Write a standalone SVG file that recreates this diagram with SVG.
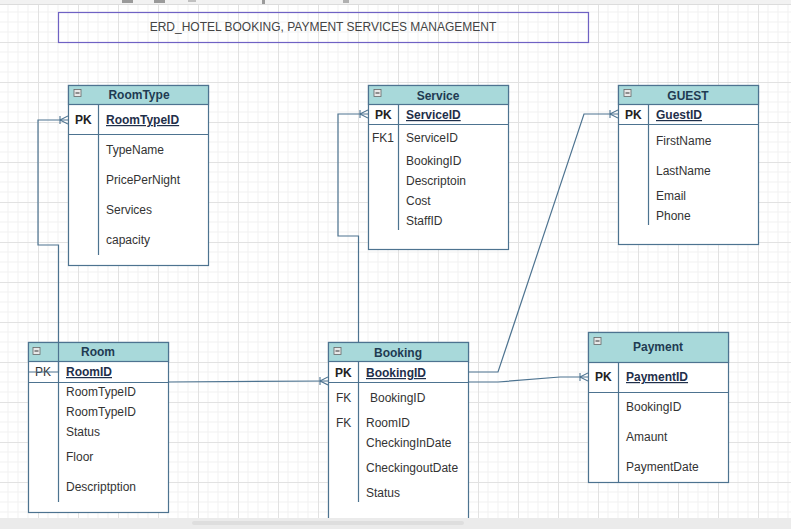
<svg xmlns="http://www.w3.org/2000/svg" width="791" height="529" viewBox="0 0 791 529">
<style>
.box{fill:#ffffff;stroke:#4d7390;stroke-width:1.2}
.hdr{fill:#a8d9da;stroke:#4d7390;stroke-width:1.2}
.ln{stroke:#4d7390;stroke-width:1.2;fill:none}
.ttl{font-family:"Liberation Sans",Arial,sans-serif;font-size:12px;font-weight:bold;fill:#1f3b52;text-anchor:middle}
.pk{font-family:"Liberation Sans",Arial,sans-serif;font-size:12px;font-weight:bold;fill:#222}
.pkn{font-family:"Liberation Sans",Arial,sans-serif;font-size:12px;font-weight:bold;fill:#1f2f4a;text-decoration:underline}
.f{font-family:"Liberation Sans",Arial,sans-serif;font-size:12px;fill:#333}
.conn{stroke:#4d7390;stroke-width:1.2;fill:none}
.mi{fill:#e8e8e8;stroke:#666;stroke-width:0.8}
</style>
<defs>
<pattern id="grid" x="-2" y="2" width="40" height="40" patternUnits="userSpaceOnUse">
<path d="M10,0V40M20,0V40M30,0V40M0,10H40M0,20H40M0,30H40" stroke="#f1f1f1" stroke-width="1"/>
<path d="M0.5,0V40M0,0.5H40" stroke="#e2e2e2" stroke-width="1"/>
</pattern>
<marker id="cf" viewBox="0 0 10 10" refX="10" refY="5" markerWidth="10" markerHeight="10" markerUnits="userSpaceOnUse" orient="auto">
<path d="M2,1V9M2,5L10,1M2,5L10,9" stroke="#4d7390" stroke-width="1.1" fill="none"/>
</marker>
</defs>
<rect width="791" height="529" fill="#ffffff"/>
<rect width="791" height="529" fill="url(#grid)"/>
<rect x="0" y="0" width="791" height="4" fill="#f2f2f2"/>
<line x1="0" y1="4.5" x2="791" y2="4.5" stroke="#dcdcdc"/>
<rect x="122" y="0" width="11" height="3" fill="#9a9a9a"/>
<rect x="154" y="0" width="11" height="3" fill="#9a9a9a"/>
<rect x="188" y="0" width="8" height="2" fill="#c0c0c0"/>
<rect x="262" y="0" width="3" height="4" fill="#9a9a9a"/>
<rect x="343" y="0" width="6" height="3" fill="#b0b0b0"/>

<g id="title">
<rect x="58.5" y="12.5" width="530" height="30" fill="none" stroke="#6f62c4" stroke-width="1.2"/>
<text x="323" y="31" font-family="Liberation Sans,Arial,sans-serif" font-size="12" fill="#444" text-anchor="middle">ERD_HOTEL BOOKING, PAYMENT SERVICES MANAGEMENT</text>
</g>

<g id="RoomType">
<rect class="box" x="68.5" y="85.5" width="140" height="180"/>
<rect class="hdr" x="68.5" y="85.5" width="140" height="19"/>
<rect class="mi" x="74" y="89.5" width="7" height="7"/><line x1="75.5" y1="93" x2="79.5" y2="93" stroke="#333"/>
<text class="ttl" x="139" y="99">RoomType</text>
<line class="ln" x1="98.5" y1="104.5" x2="98.5" y2="255"/>
<line class="ln" x1="68.5" y1="134.5" x2="208.5" y2="134.5"/>
<text class="pk" x="75" y="124">PK</text>
<text class="pkn" x="106" y="124">RoomTypeID</text>
<text class="f" x="106" y="154">TypeName</text>
<text class="f" x="106" y="184">PricePerNight</text>
<text class="f" x="106" y="214">Services</text>
<text class="f" x="106" y="244">capacity</text>
</g>

<g id="Service">
<rect class="box" x="368.5" y="85.5" width="140" height="164"/>
<rect class="hdr" x="368.5" y="85.5" width="140" height="19"/>
<rect class="mi" x="374" y="89.5" width="7" height="7"/><line x1="375.5" y1="93" x2="379.5" y2="93" stroke="#333"/>
<text class="ttl" x="438" y="100">Service</text>
<line class="ln" x1="398.5" y1="104.5" x2="398.5" y2="230"/>
<line class="ln" x1="368.5" y1="124.5" x2="508.5" y2="124.5"/>
<text class="pk" x="375" y="119">PK</text>
<text class="pkn" x="406" y="119">ServiceID</text>
<text class="f" x="372" y="142">FK1</text>
<text class="f" x="406" y="142">ServiceID</text>
<text class="f" x="406" y="165">BookingID</text>
<text class="f" x="406" y="185">Descriptoin</text>
<text class="f" x="406" y="205">Cost</text>
<text class="f" x="406" y="225">StaffID</text>
</g>

<g id="GUEST">
<rect class="box" x="618.5" y="85.5" width="140" height="159"/>
<rect class="hdr" x="618.5" y="85.5" width="140" height="19"/>
<rect class="mi" x="624" y="89.5" width="7" height="7"/><line x1="625.5" y1="93" x2="629.5" y2="93" stroke="#333"/>
<text class="ttl" x="688" y="100">GUEST</text>
<line class="ln" x1="648.5" y1="104.5" x2="648.5" y2="225"/>
<line class="ln" x1="618.5" y1="124.5" x2="758.5" y2="124.5"/>
<text class="pk" x="625" y="119">PK</text>
<text class="pkn" x="656" y="119">GuestID</text>
<text class="f" x="656" y="145">FirstName</text>
<text class="f" x="656" y="175">LastName</text>
<text class="f" x="656" y="200">Email</text>
<text class="f" x="656" y="220">Phone</text>
</g>

<g id="Room">
<rect class="box" x="28.5" y="342.5" width="140" height="170"/>
<rect class="hdr" x="28.5" y="342.5" width="140" height="19"/>
<rect class="mi" x="33" y="347.5" width="7" height="7"/><line x1="34.5" y1="351" x2="38.5" y2="351" stroke="#333"/>
<text class="ttl" x="98" y="356">Room</text>
<line class="ln" x1="58.5" y1="361.5" x2="58.5" y2="502"/>
<line class="ln" x1="28.5" y1="382.5" x2="168.5" y2="382.5"/>
<text class="f" x="35" y="376">PK</text>
<text class="pkn" x="66" y="376">RoomID</text>
<text class="f" x="66" y="396">RoomTypeID</text>
<text class="f" x="66" y="416">RoomTypeID</text>
<text class="f" x="66" y="436">Status</text>
<text class="f" x="66" y="461">Floor</text>
<text class="f" x="66" y="491">Descriptption</text>
</g>

<g id="Booking">
<rect class="box" x="328.5" y="342.5" width="140" height="200"/>
<rect class="hdr" x="328.5" y="342.5" width="140" height="19"/>
<rect class="mi" x="334" y="347.5" width="7" height="7"/><line x1="335.5" y1="351" x2="339.5" y2="351" stroke="#333"/>
<text class="ttl" x="398" y="357">Booking</text>
<line class="ln" x1="358.5" y1="361.5" x2="358.5" y2="502"/>
<line class="ln" x1="328.5" y1="382.5" x2="468.5" y2="382.5"/>
<text class="pk" x="335" y="377">PK</text>
<text class="pkn" x="366" y="377">BookingID</text>
<text class="f" x="336" y="402">FK</text>
<text class="f" x="370" y="402">BookingID</text>
<text class="f" x="336" y="427">FK</text>
<text class="f" x="366" y="427">RoomID</text>
<text class="f" x="366" y="447">CheckingInDate</text>
<text class="f" x="366" y="472">CheckingoutDate</text>
<text class="f" x="366" y="497">Status</text>
</g>

<g id="Payment">
<rect class="box" x="588.5" y="332.5" width="140" height="150"/>
<rect class="hdr" x="588.5" y="332.5" width="140" height="30"/>
<rect class="mi" x="594" y="337.5" width="7" height="7"/><line x1="595.5" y1="341" x2="599.5" y2="341" stroke="#333"/>
<text class="ttl" x="658" y="351">Payment</text>
<line class="ln" x1="618.5" y1="362.5" x2="618.5" y2="482.5"/>
<line class="ln" x1="588.5" y1="392.5" x2="728.5" y2="392.5"/>
<text class="pk" x="595" y="381">PK</text>
<text class="pkn" x="626" y="381">PaymentID</text>
<text class="f" x="626" y="411">BookingID</text>
<text class="f" x="626" y="441">Amaunt</text>
<text class="f" x="626" y="471">PaymentDate</text>
</g>

<g id="connectors">
<polyline class="conn" points="28,372 58.5,372 58.5,245 38,245 38,120 68,120" marker-end="url(#cf)"/>
<polyline class="conn" points="358.5,342 358.5,236 338,236 338,114 368,114" marker-end="url(#cf)"/>
<polyline class="conn" points="468,372 498,372 584,114 618,114" marker-end="url(#cf)"/>
<polyline class="conn" points="168,382 328,381" marker-end="url(#cf)"/>
<polyline class="conn" points="468,382 498,382 560,377 588,377" marker-end="url(#cf)"/>
</g>

<rect x="0" y="518" width="791" height="11" fill="#ebebeb"/>
<rect x="192" y="521" width="272" height="4" rx="2" fill="#dedede"/>
</svg>
